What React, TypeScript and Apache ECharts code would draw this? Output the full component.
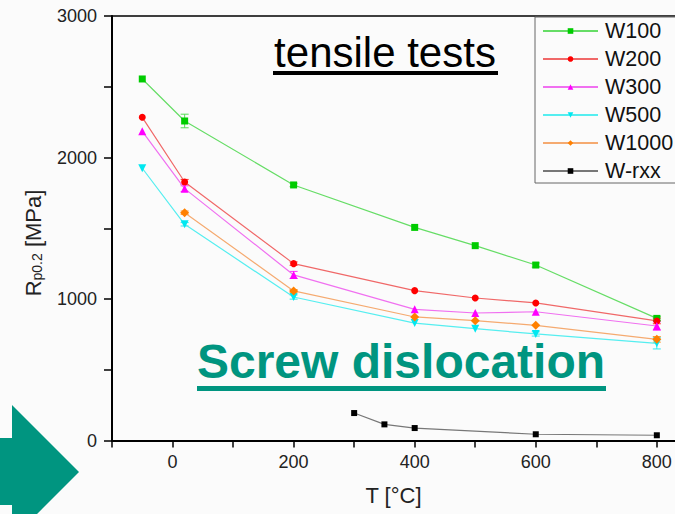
import React, { useEffect, useRef } from "react";
import * as echarts from "echarts";

const temps = [-50, 20, 200, 400, 500, 600, 800];
const w100 = [2555, 2258, 1806, 1506, 1377, 1240, 863];
const w200 = [2284, 1827, 1250, 1059, 1007, 972, 845];
const w300 = [2185, 1780, 1170, 927, 901, 910, 809];
const w500 = [1924, 1528, 1014, 830, 790, 753, 687];
const w1000Temps = [20, 200, 400, 500, 600, 800];
const w1000 = [1610, 1057, 873, 847, 814, 715];
const rxxTemps = [300, 350, 400, 600, 800];
const wrxx = [194, 114, 88, 44, 37];

const err100 = [0, 48, 12, 0, 0, 15, 15];
const err200 = [0, 18, 12, 0, 0, 0, 20];
const err300 = [0, 20, 25, 0, 0, 0, 30];
const err500 = [0, 12, 15, 0, 0, 15, 40];
const err1000 = [12, 10, 0, 0, 0, 20];

const xTickLabels = [0, 200, 400, 600, 800];
const yTickLabels = [0, 1000, 2000, 3000];

const FONT = '"Liberation Sans", Arial, Helvetica, sans-serif';

function pairs(xs: number[], ys: number[]) {
  return xs.map((x, i) => [x, ys[i]]);
}
function errPairs(xs: number[], ys: number[], es: number[]) {
  return xs
    .map((x, i) => [x, ys[i] - es[i], ys[i] + es[i], es[i]])
    .filter((d) => d[3] > 0);
}

function errSeries(name: string, data: number[][], color: string) {
  return {
    type: "custom",
    name: name + "-err",
    data,
    z: 3,
    renderItem: (params: any, api: any) => {
      const x = api.value(0);
      const lo = api.coord([x, api.value(1)]);
      const hi = api.coord([x, api.value(2)]);
      const w = 4;
      const style = { stroke: color, lineWidth: 1 };
      return {
        type: "group",
        children: [
          { type: "line", shape: { x1: lo[0], y1: lo[1], x2: hi[0], y2: hi[1] }, style },
          { type: "line", shape: { x1: lo[0] - w, y1: lo[1], x2: lo[0] + w, y2: lo[1] }, style },
          { type: "line", shape: { x1: hi[0] - w, y1: hi[1], x2: hi[0] + w, y2: hi[1] }, style },
        ],
      };
    },
  };
}

function lineSeries(name: string, data: number[][], marker: string, lineColor: string, symbol: string, rotate = 0, size = 7) {
  return {
    type: "line",
    name,
    data,
    symbol,
    symbolSize: size,
    symbolRotate: rotate,
    showAllSymbol: true,
    itemStyle: { color: marker, borderWidth: 0 },
    lineStyle: { color: lineColor, width: 1.2 },
    z: 4,
  };
}

export default function App() {
  const ref = useRef<HTMLDivElement>(null);
  useEffect(() => {
    if (!ref.current) return;
    const chart = echarts.init(ref.current, undefined, { renderer: "svg" });
    const option: any = {
      animation: false,
      backgroundColor: "#fbfbfb",
      textStyle: { fontFamily: FONT },
      grid: { left: 112, right: 0, top: 16, bottom: 73.5, containLabel: false },
      legend: {
        orient: "vertical",
        left: 542,
        top: 20,
        padding: 0,
        itemWidth: 55,
        itemHeight: 7,
        itemGap: 6,
        textStyle: { fontSize: 21.5, color: "#111", fontFamily: FONT, lineHeight: 22, padding: [0, 0, 0, 2] },
        data: ["W100", "W200", "W300", "W500", "W1000", "W-rxx"],
      },
      xAxis: [
        {
          type: "value",
          min: -100,
          max: 830,
          interval: 100,
          axisLine: { show: true, onZero: false, lineStyle: { color: "#000", width: 2 } },
          axisTick: { show: true, inside: false, length: 7, lineStyle: { color: "#000", width: 1.5 } },
          axisLabel: {
            fontSize: 18,
            color: "#222",
            margin: 12,
            fontFamily: FONT,
            showMaxLabel: false,
            formatter: (v: number) => (xTickLabels.includes(v) ? String(v) : ""),
          },
          splitLine: { show: false },
          name: "T [°C]",
          nameLocation: "middle",
          nameGap: 44,
          nameTextStyle: { fontSize: 22, color: "#222", fontFamily: FONT },
        },
        {
          type: "value",
          position: "top",
          min: -100,
          max: 830,
          axisLine: { show: true, onZero: false, lineStyle: { color: "#000", width: 1.5 } },
          axisTick: { show: false },
          axisLabel: { show: false },
          splitLine: { show: false },
        },
      ],
      yAxis: {
        type: "value",
        min: 0,
        max: 3000,
        interval: 500,
        axisLine: { show: true, onZero: false, lineStyle: { color: "#000", width: 2 } },
        axisTick: { show: true, inside: false, length: 8, lineStyle: { color: "#000", width: 1.5 } },
        axisLabel: {
          fontSize: 18,
          color: "#222",
          margin: 15,
          fontFamily: FONT,
          formatter: (v: number) => (yTickLabels.includes(v) ? String(v) : ""),
        },
        splitLine: { show: false },
      },
      graphic: [
        {
          type: "polygon",
          shape: {
            points: [
              [0, 438], [12, 438], [12, 405], [79, 472], [37, 514], [12, 514], [12, 505], [0, 505],
            ],
          },
          style: { fill: "#009580" },
        },
        {
          type: "rect",
          shape: { x: 535, y: 17, width: 150, height: 166 },
          style: { fill: "none", stroke: "#666", lineWidth: 1 },
          z: 1,
        },
        {
          type: "text",
          x: 33,
          y: 243,
          rotation: Math.PI / 2,
          style: {
            text: "R{sub|p0.2} [MPa]",
            fontSize: 22,
            fill: "#222",
            fontFamily: FONT,
            align: "center",
            verticalAlign: "middle",
            rich: {
              sub: { fontSize: 14, fill: "#222", fontFamily: FONT, verticalAlign: "bottom", padding: [8, 0, 0, 0] },
            },
          },
        },
        {
          type: "text",
          x: 385,
          y: 52,
          style: {
            text: "tensile tests",
            fontSize: 42,
            fill: "#000",
            fontFamily: FONT,
            align: "center",
            verticalAlign: "middle",
          },
        },
        {
          type: "rect",
          shape: { x: 273, y: 71, width: 225, height: 4 },
          style: { fill: "#000" },
        },
        {
          type: "text",
          x: 401,
          y: 361,
          style: {
            text: "Screw dislocation",
            fontSize: 48,
            fontWeight: "bold",
            fill: "#009580",
            fontFamily: FONT,
            align: "center",
            verticalAlign: "middle",
          },
        },
        {
          type: "rect",
          shape: { x: 197, y: 386, width: 409, height: 5 },
          style: { fill: "#009580" },
        },
      ],
      series: [
        lineSeries("W100", pairs(temps, w100), "#00cc00", "#66dd66", "rect"),
        lineSeries("W200", pairs(temps, w200), "#ff0000", "#f06868", "circle"),
        lineSeries("W300", pairs(temps, w300), "#ff00ff", "#f070f0", "triangle", 0, 8),
        lineSeries("W500", pairs(temps, w500), "#00e8f0", "#55eef0", "triangle", 180, 8),
        lineSeries("W1000", pairs(w1000Temps, w1000), "#ff8000", "#f5aa70", "diamond", 0, 9),
        lineSeries("W-rxx", pairs(rxxTemps, wrxx), "#000000", "#777777", "rect", 0, 6),
        errSeries("W100", errPairs(temps, w100, err100), "#55dd55"),
        errSeries("W200", errPairs(temps, w200, err200), "#ff3333"),
        errSeries("W300", errPairs(temps, w300, err300), "#ff33ff"),
        errSeries("W500", errPairs(temps, w500, err500), "#33e8f0"),
        errSeries("W1000", errPairs(w1000Temps, w1000, err1000), "#ff9933"),
      ],
    };
    chart.setOption(option);
    return () => chart.dispose();
  }, []);
  return (
    <div
      ref={ref}
      style={{ position: "fixed", left: 0, top: 0, width: 675, height: 514 }}
    />
  );
}
